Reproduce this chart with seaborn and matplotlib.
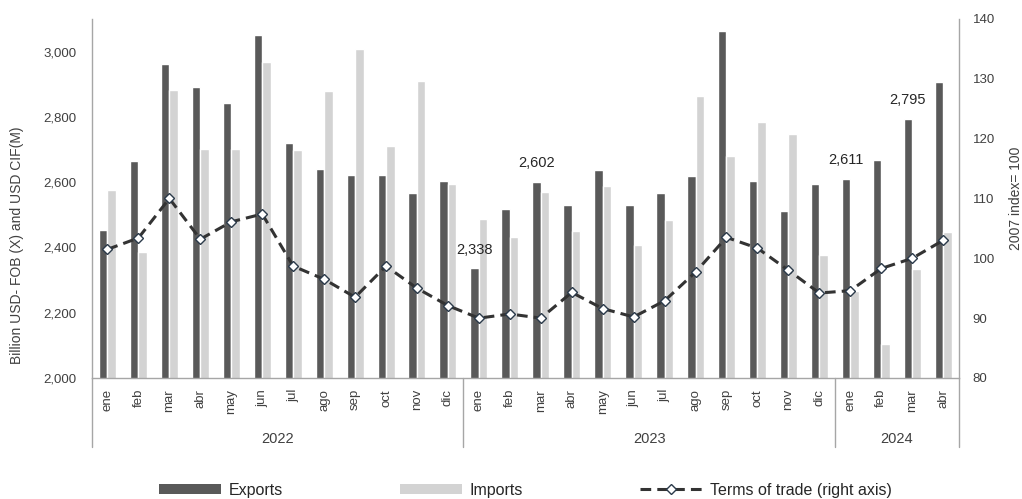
import numpy as np
import pandas as pd
import matplotlib
matplotlib.use("Agg")
import matplotlib.pyplot as plt
import matplotlib.transforms as mtransforms
from matplotlib.patches import Patch
from matplotlib.lines import Line2D
import seaborn as sns

# ---------------- data ----------------
months = ["ene", "feb", "mar", "abr", "may", "jun", "jul", "ago", "sep", "oct", "nov", "dic",
          "ene", "feb", "mar", "abr", "may", "jun", "jul", "ago", "sep", "oct", "nov", "dic",
          "ene", "feb", "mar", "abr"]
years = ["2022"] * 12 + ["2023"] * 12 + ["2024"] * 4
exports = [2452, 2665, 2961, 2892, 2841, 3050, 2720, 2640, 2623, 2623, 2567, 2604,
           2338, 2519, 2602, 2530, 2636, 2530, 2567, 2618, 3063, 2604, 2511, 2595,
           2611, 2669, 2795, 2908]
imports = [2576, 2386, 2883, 2701, 2701, 2967, 2700, 2878, 3008, 2712, 2911, 2595,
           2488, 2433, 2571, 2450, 2589, 2408, 2484, 2864, 2679, 2785, 2748, 2377,
           2265, 2103, 2334, 2446]
terms_of_trade = [101.5, 103.4, 110.0, 103.2, 106.1, 107.4, 98.7, 96.5, 93.5, 98.7, 95.0, 92.1,
                  90.0, 90.7, 90.0, 94.3, 91.6, 90.2, 92.9, 97.7, 103.5, 101.7, 98.0, 94.2,
                  94.6, 98.3, 100.0, 103.0]
labeled_points = {12: "2,338", 14: "2,602", 24: "2,611", 26: "2,795"}
year_groups = ["2022", "2023", "2024"]

# ---------------- style ----------------
sns.set_theme(style="white")
plt.rcParams["font.family"] = ["Liberation Sans", "DejaVu Sans"]

keys = [f"{y}-{m}" for y, m in zip(years, months)]
df = pd.DataFrame({
    "key": keys * 2,
    "value": exports + imports,
    "series": ["Exports"] * len(keys) + ["Imports"] * len(keys),
})

exp_color = "#595959"
imp_color = "#d3d3d3"
line_color = "#333333"
axis_color = "#a6a6a6"
text_color = "#404040"
tick_fs = 9.5

fig = plt.figure(figsize=(10.22, 4.99), dpi=100)
ax = fig.add_axes([0.090, 0.2425, 0.848, 0.7195])

sns.barplot(data=df, x="key", y="value", hue="series", order=keys,
            palette={"Exports": exp_color, "Imports": imp_color},
            width=0.55, dodge=True, ax=ax, legend=False, saturation=1)

ax.set_ylim(2000, 3100)
ax.set_yticks(np.arange(2000, 3001, 200))
ax.set_yticklabels([f"{v:,}" for v in np.arange(2000, 3001, 200)], fontsize=tick_fs, color=text_color)
ax.set_xlim(-0.5, len(keys) - 0.5)
ax.set_xticks(np.arange(len(keys)))
ax.set_xticklabels(months, rotation=90, fontsize=tick_fs, color=text_color)
ax.tick_params(axis="y", length=0, pad=11)
ax.tick_params(axis="x", length=0, pad=8)
ax.set_xlabel("")
ax.set_ylabel("Billion USD- FOB (X) and USD CIF(M)", fontsize=10, color=text_color)
ax.yaxis.set_label_coords(-0.078, 0.37)

for s in ["top", "right"]:
    ax.spines[s].set_visible(False)
for s in ["left", "bottom"]:
    ax.spines[s].set_color(axis_color)
    ax.spines[s].set_linewidth(1.0)

# data labels
for i, txt in labeled_points.items():
    ax.annotate(txt, (i - 0.14, exports[i]), xytext=(0, 8), textcoords="offset points",
                ha="center", va="bottom", fontsize=10.5, color="#262626")

# right axis: terms of trade
ax2 = ax.twinx()
tot_df = pd.DataFrame({"pos": np.arange(len(keys)), "tot": terms_of_trade})
sns.lineplot(data=tot_df, x="pos", y="tot", ax=ax2, color=line_color, linewidth=2.2,
             marker="D", markersize=5, markerfacecolor="white", markeredgecolor="#2b3a4a",
             markeredgewidth=1.0, dashes=False, legend=False)
ax2.lines[0].set_dashes((3.5, 2))
ax2.set_ylim(80, 140)
ax2.set_yticks(np.arange(80, 141, 10))
ax2.set_yticklabels([str(v) for v in range(80, 141, 10)], fontsize=tick_fs, color=text_color)
ax2.tick_params(axis="y", length=0, pad=10)
ax2.set_xlabel("")
ax2.set_ylabel("2007 index= 100", fontsize=10, color=text_color)
ax2.yaxis.set_label_coords(1.058, 0.5)
for s in ["top", "left", "bottom"]:
    ax2.spines[s].set_visible(False)
ax2.spines["right"].set_color(axis_color)
ax2.spines["right"].set_linewidth(1.0)

# year group separators and labels
trans = mtransforms.blended_transform_factory(ax.transData, ax.transAxes)
bounds = [-0.5]
start = 0
for yr in year_groups:
    n = years.count(yr)
    end = start + n
    bounds.append(end - 0.5)
    ax.text((start + end - 1) / 2, -0.17, yr, transform=trans, ha="center", va="center",
            fontsize=10.5, color=text_color)
    start = end
for b in bounds:
    ax.plot([b, b], [0, -0.192], transform=trans, color=axis_color, lw=1.0, clip_on=False)

# legend
handles = [
    Patch(facecolor=exp_color, edgecolor="none", label="Exports"),
    Patch(facecolor=imp_color, edgecolor="none", label="Imports"),
    Line2D([0], [0], color=line_color, lw=2.2, dashes=(3.5, 2), marker="D", markersize=5,
           markerfacecolor="white", markeredgecolor="#2b3a4a", label="Terms of trade (right axis)"),
]
fig.legend(handles=handles, loc="center", bbox_to_anchor=(0.514, 0.018), ncol=3, frameon=False,
           fontsize=11.5, handlelength=3.9, handleheight=0.6, columnspacing=7.3,
           handletextpad=0.5, labelcolor="#262626")

fig.savefig("out.png", dpi=100)
